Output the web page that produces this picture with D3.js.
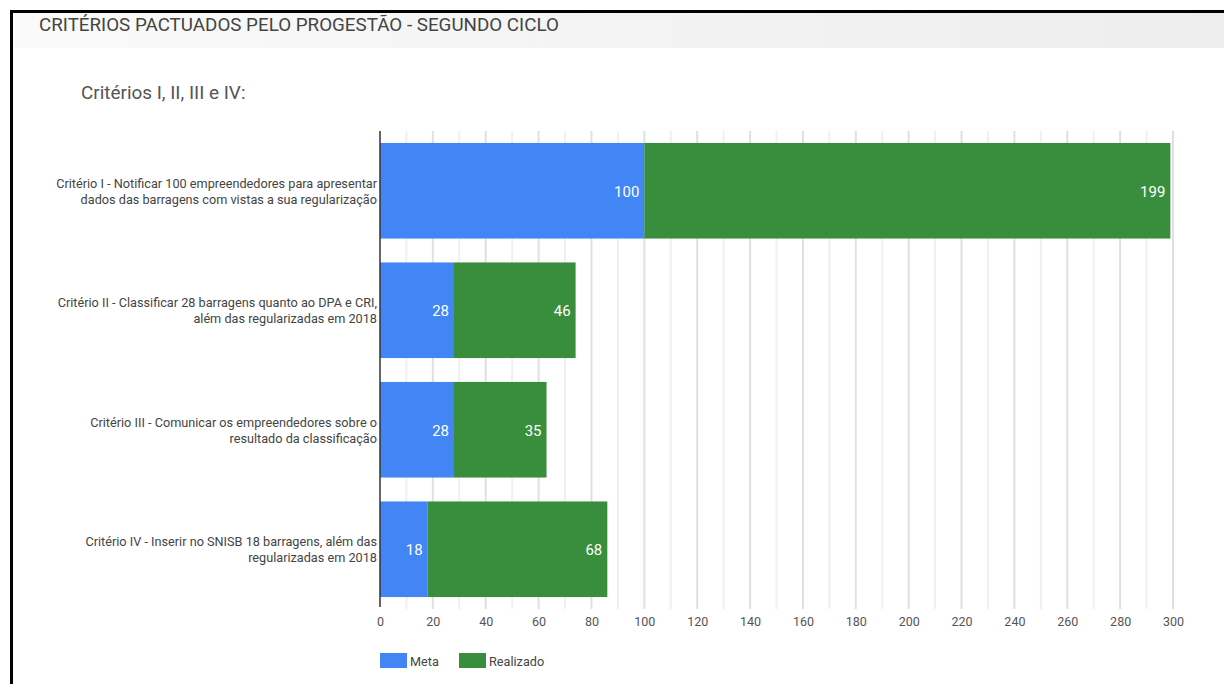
<!DOCTYPE html>
<html>
<head>
<meta charset="utf-8">
<script src="https://cdn.jsdelivr.net/npm/d3@7"></script>
<style>
  html, body { margin: 0; padding: 0; background: #fff; }
  svg { display: block; font-family: Roboto, Arial, sans-serif; }
</style>
</head>
<body>
<svg id="chart" width="1224" height="684"></svg>
<script>
// dados
const categories = [
  ['Critério I - Notificar 100 empreendedores para apresentar', 'dados das barragens com vistas a sua regularização'],
  ['Critério II - Classificar 28 barragens quanto ao DPA e CRI,', 'além das regularizadas em 2018'],
  ['Critério III - Comunicar os empreendedores sobre o', 'resultado da classificação'],
  ['Critério IV - Inserir no SNISB 18 barragens, além das', 'regularizadas em 2018']
]
const seriesNames = ['Meta', 'Realizado']
const meta = [100, 28, 28, 18]
const realizado = [199, 46, 35, 68]
const xTicks = [0, 20, 40, 60, 80, 100, 120, 140, 160, 180, 200, 220, 240, 260, 280, 300]
const minorTicks = d3.range(10, 300, 20)

const colors = ['#4285f4', '#388e3c']

const svg = d3.select('#chart')
const W = 1224, H = 684

// moldura e cabeçalho
const defs = svg.append('defs')
const grad = defs.append('linearGradient').attr('id', 'hdr').attr('x1', 0).attr('x2', 1)
grad.append('stop').attr('offset', 0).attr('stop-color', '#fafafa')
grad.append('stop').attr('offset', 1).attr('stop-color', '#ededed')

svg.append('rect').attr('x', 12).attr('y', 12).attr('width', W - 12).attr('height', 36).attr('fill', 'url(#hdr)')
svg.append('rect').attr('x', 10).attr('y', 10).attr('width', W - 10).attr('height', 3).attr('fill', '#000')
svg.append('rect').attr('x', 10).attr('y', 10).attr('width', 3).attr('height', H - 10).attr('fill', '#000')

svg.append('text')
  .attr('x', 39).attr('y', 31)
  .attr('fill', '#444').style('font-size', '18.8px')
  .text('CRITÉRIOS PACTUADOS PELO PROGESTÃO - SEGUNDO CICLO')

svg.append('text')
  .attr('x', 81).attr('y', 99)
  .attr('fill', '#555').style('font-size', '18.9px')
  .text('Critérios I, II, III e IV:')

// área do gráfico
const plot = { left: 380, right: 1173, top: 131, bottom: 609 }

const x = d3.scaleLinear().domain([0, 300]).range([plot.left, plot.right])
const y = d3.scaleBand().domain(d3.range(categories.length)).range([plot.top, plot.bottom]).paddingInner(0.2).paddingOuter(0.1)

const g = svg.append('g')

// grade
g.append('g').selectAll('line')
  .data(minorTicks)
  .join('line')
  .attr('x1', d => x(d)).attr('x2', d => x(d))
  .attr('y1', plot.top).attr('y2', plot.bottom)
  .attr('stroke', '#f0f0f0').attr('stroke-width', 2)

g.append('g').selectAll('line')
  .data(xTicks.slice(1))
  .join('line')
  .attr('x1', d => x(d)).attr('x2', d => x(d))
  .attr('y1', plot.top).attr('y2', plot.bottom)
  .attr('stroke', '#e0e0e0').attr('stroke-width', 2)

// pilhas
const stacked = d3.stack().keys([0, 1])(categories.map((c, i) => [meta[i], realizado[i]]))

const layers = g.append('g').selectAll('g')
  .data(stacked)
  .join('g')
  .attr('fill', (d, i) => colors[i])

layers.selectAll('rect')
  .data(d => d.map((v, i) => ({ v, i })))
  .join('rect')
  .attr('x', d => x(d.v[0]))
  .attr('width', d => x(d.v[1]) - x(d.v[0]))
  .attr('y', d => y(d.i))
  .attr('height', y.bandwidth())

layers.selectAll('text')
  .data(d => d.map((v, i) => ({ v, i })))
  .join('text')
  .attr('x', d => x(d.v[1]) - 5)
  .attr('y', d => y(d.i) + y.bandwidth() / 2 + 6)
  .attr('text-anchor', 'end')
  .attr('fill', '#fff')
  .style('font-size', '15px')
  .text(d => d.v[1] - d.v[0])

// eixo vertical
g.append('line')
  .attr('x1', plot.left).attr('x2', plot.left)
  .attr('y1', plot.top).attr('y2', plot.bottom - 2)
  .attr('stroke', '#333').attr('stroke-width', 1.5)

// rótulos das categorias
const catLabels = g.append('g').selectAll('text')
  .data(categories)
  .join('text')
  .attr('text-anchor', 'end')
  .attr('fill', '#444')
  .style('font-size', '12.7px')
  .attr('transform', (d, i) => `translate(${plot.left - 3},${y(i) + y.bandwidth() / 2})`)

catLabels.selectAll('tspan')
  .data(d => d)
  .join('tspan')
  .attr('x', 0)
  .attr('y', (d, j) => j === 0 ? -3 : 13)
  .text(d => d)

// eixo x
const xAxis = d3.axisBottom(x).tickValues(xTicks).tickSize(0).tickPadding(8)
g.append('g')
  .attr('transform', `translate(0,${plot.bottom})`)
  .call(xAxis)
  .call(a => a.select('.domain').remove())
  .call(a => a.selectAll('text')
    .attr('fill', '#555')
    .style('font-family', 'Roboto, Arial, sans-serif')
    .style('font-size', '12.5px'))

// legenda
const legend = svg.append('g').attr('transform', 'translate(380,653)')
const legendX = [0, 79]
const li = legend.selectAll('g')
  .data(seriesNames)
  .join('g')
  .attr('transform', (d, i) => `translate(${legendX[i]},0)`)
li.append('rect').attr('width', 27).attr('height', 15).attr('fill', (d, i) => colors[i])
li.append('text').attr('x', 30).attr('y', 12.5)
  .attr('fill', '#444').style('font-size', '12.7px')
  .text(d => d)
</script>
</body>
</html>
